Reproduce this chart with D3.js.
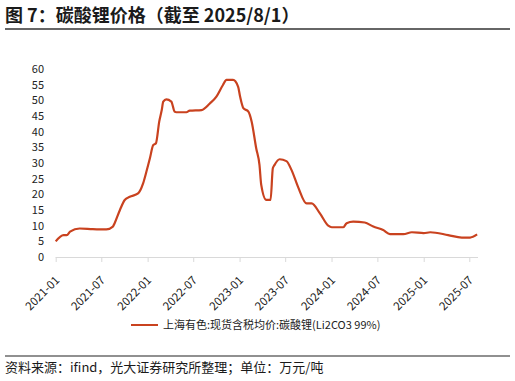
<!DOCTYPE html>
<html><head><meta charset="utf-8">
<script src="https://cdn.jsdelivr.net/npm/d3@7"></script>
<style>
body{margin:0;background:#fff;}
text{font-family:"Noto Sans CJK SC","Noto Sans",sans-serif;}
</style></head>
<body>
<svg id="c" width="515" height="381"></svg>
<script>
const titleText = "图 7：碳酸锂价格（截至 2025/8/1）";
const sourceText = "资料来源：ifind，光大证券研究所整理；单位：万元/吨";
const seriesName = "上海有色:现货含税均价:碳酸锂(Li2CO3 99%)";
const dates = ["2021-01-01","2021-02-01","2021-02-14","2021-02-27","2021-04-06","2021-05-28","2021-07-21","2021-08-16","2021-08-23","2021-09-13","2021-10-02","2021-10-22","2021-11-24","2021-12-14","2021-12-27","2022-01-10","2022-01-23","2022-02-03","2022-02-16","2022-02-26","2022-03-04","2022-03-16","2022-04-05","2022-04-18","2022-04-25","2022-06-04","2022-06-17","2022-08-03","2022-09-05","2022-10-01","2022-10-27","2022-11-10","2022-12-06","2022-12-26","2023-01-03","2023-01-16","2023-02-05","2023-02-18","2023-03-08","2023-03-21","2023-03-28","2023-04-17","2023-05-04","2023-05-13","2023-05-20","2023-06-09","2023-07-06","2023-07-26","2023-08-21","2023-09-24","2023-10-14","2023-11-16","2023-12-19","2024-01-02","2024-02-17","2024-03-01","2024-03-27","2024-05-12","2024-06-15","2024-07-24","2024-08-20","2024-10-12","2024-11-15","2025-01-01","2025-01-27","2025-04-08","2025-06-01","2025-07-04","2025-08-01"];
const prices = [5.0,7.0,7.0,8.1,9.1,8.9,8.8,9.7,10.8,15.0,18.2,19.2,20.3,23.5,27.2,31.5,35.7,36.3,43.2,46.9,49.6,50.3,49.6,46.4,46.2,46.2,46.7,46.9,49.0,51.2,54.9,56.5,56.5,54.4,51.2,47.5,46.4,43.2,34.7,29.4,23.0,18.2,18.2,28.3,29.4,31.2,30.6,27.8,22.4,17.1,17.1,13.9,10.0,9.5,9.5,10.8,11.3,11.0,9.7,8.6,7.3,7.3,7.9,7.6,7.9,7.0,6.2,6.2,7.2];
const yTicks = [0,5,10,15,20,25,30,35,40,45,50,55,60];
const xTickLabels = ["2021-01","2021-07","2022-01","2022-07","2023-01","2023-07","2024-01","2024-07","2025-01","2025-07"];

const parse = d3.timeParse("%Y-%m-%d");
const parseM = d3.timeParse("%Y-%m");
const data = dates.map((d,i)=>({date:parse(d), v:prices[i]}));

const svg = d3.select("#c");
const x = d3.scaleTime().domain([parse("2021-01-01"), parse("2025-07-01")]).range([55.7, 469.3]);
const y = d3.scaleLinear().domain([0,60]).range([257,69]);

// title
svg.append("text").attr("x",5).attr("y",22).attr("font-size",18).attr("font-weight","bold").attr("fill","#1a1a1a").text(titleText);
svg.append("line").attr("x1",5).attr("x2",510).attr("y1",29).attr("y2",29).attr("stroke","#333").attr("stroke-width",1.5);

// y axis labels
const ya = svg.append("g").attr("transform","translate(44,0)")
  .call(d3.axisLeft(y).tickValues(yTicks).tickSize(0).tickPadding(0));
ya.select(".domain").remove();
ya.selectAll("text").attr("font-size",11).attr("fill","#222").attr("font-family","'Noto Sans CJK SC','Noto Sans',sans-serif");

// x axis
const xa = svg.append("g").attr("transform","translate(0,257)")
  .call(d3.axisBottom(x).tickValues(xTickLabels.map(parseM)).tickFormat(d3.timeFormat("%Y-%m")).tickSize(5).tickSizeOuter(0));
xa.select(".domain").attr("d","M55.7,0.5H478").attr("stroke","#d9d9d9");
xa.selectAll(".tick line").attr("stroke","#d9d9d9");
xa.selectAll("text").attr("font-size",11.5).attr("fill","#222")
  .attr("font-family","'Noto Sans CJK SC','Noto Sans',sans-serif")
  .attr("text-anchor","end").attr("dy","0").attr("y",0)
  .attr("transform","translate(4,24) rotate(-45)");

// line
svg.append("path").datum(data)
  .attr("d", d3.line().x(d=>x(d.date)).y(d=>y(d.v)).curve(d3.curveMonotoneX))
  .attr("fill","none").attr("stroke","#C9421F").attr("stroke-width",2.2).attr("stroke-linejoin","round");

// legend
svg.append("line").attr("x1",131).attr("x2",158).attr("y1",325).attr("y2",325).attr("stroke","#C9421F").attr("stroke-width",2);
svg.append("text").attr("x",163).attr("y",329).attr("font-size",11).attr("fill","#222").text(seriesName);

// footer
svg.append("line").attr("x1",5).attr("x2",510).attr("y1",356).attr("y2",356).attr("stroke","#222").attr("stroke-width",1.2);
svg.append("text").attr("x",5).attr("y",372).attr("font-size",13).attr("fill","#1a1a1a").text(sourceText);
</script>
</body></html>
